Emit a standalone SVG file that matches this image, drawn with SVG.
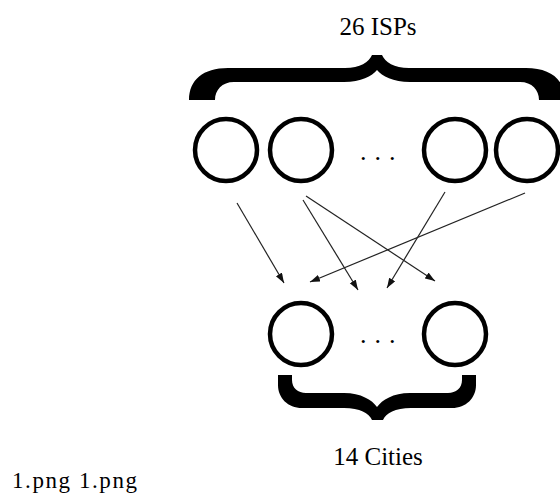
<svg xmlns="http://www.w3.org/2000/svg" width="560" height="493" viewBox="0 0 560 493">
<style>
.node{fill:none;stroke:#000;stroke-width:4.5}
.lbl{font-family:"Liberation Serif","Times New Roman",serif;font-size:25px;fill:#000}
.dots{font-family:"Liberation Serif","Times New Roman",serif;font-size:26px;fill:#000;letter-spacing:8px}
.brace{fill:#000}
.edge{stroke:#222;stroke-width:1.2;fill:none;marker-end:url(#ah)}
</style>
<defs>
<marker id="ah" markerUnits="userSpaceOnUse" markerWidth="11" markerHeight="8" refX="10" refY="3.5" orient="auto">
<path d="M0,0 L10,3.5 L0,7 z" fill="#111"/>
</marker>
</defs>
<rect width="560" height="493" fill="#fff"/>
<text class="lbl" x="378" y="35" text-anchor="middle">26 ISPs</text>
<path class="brace" d="M189,100 C189,80 203,68 228,68 L345,68 C360,68 369,62 372,55 L382,55 C385,62 394,68 409,68 L526,68 C551,68 565,80 565,100 L539,100 C539,90 532,82 520,82 L410,82 C393,82 382,76 377,70 C372,76 361,82 344,82 L234,82 C222,82 215,90 215,100 Z"/>
<g id="isp1"><circle class="node" cx="226" cy="150" r="31"/></g>
<g id="isp2"><circle class="node" cx="301" cy="150" r="31"/></g>
<text class="dots" x="360" y="160">...</text>
<g id="isp3"><circle class="node" cx="455" cy="150" r="31"/></g>
<g id="isp4"><circle class="node" cx="527" cy="150" r="31"/></g>
<g id="edges">
<line class="edge" x1="237" y1="203" x2="284" y2="283"/>
<line class="edge" x1="303" y1="200" x2="358" y2="290"/>
<line class="edge" x1="306" y1="196" x2="435" y2="281"/>
<line class="edge" x1="445" y1="192" x2="387" y2="288"/>
<line class="edge" x1="525" y1="193" x2="310" y2="282"/>
</g>
<g id="city1"><circle class="node" cx="301" cy="334" r="31"/></g>
<text class="dots" x="360" y="343">...</text>
<g id="city2"><circle class="node" cx="455" cy="334" r="31"/></g>
<path class="brace" d="M278,375 L278,385 C278,398 288,408 302,408 L344,408 C360,408 369,413 372,420 L383,420 C386,413 395,408 411,408 L452,408 C466,408 476,398 476,385 L476,375 L462,375 L462,380 C462,388 456,393 448,393 L410,393 C393,393 382,400 377,407 C372,400 361,393 344,393 L306,393 C298,393 292,388 292,380 L292,375 Z"/>
<text class="lbl" x="378" y="465" text-anchor="middle">14 Cities</text>
<text x="12" y="488" font-family="Liberation Serif, serif" font-size="23" textLength="125" lengthAdjust="spacing">1.png 1.png</text>
</svg>
